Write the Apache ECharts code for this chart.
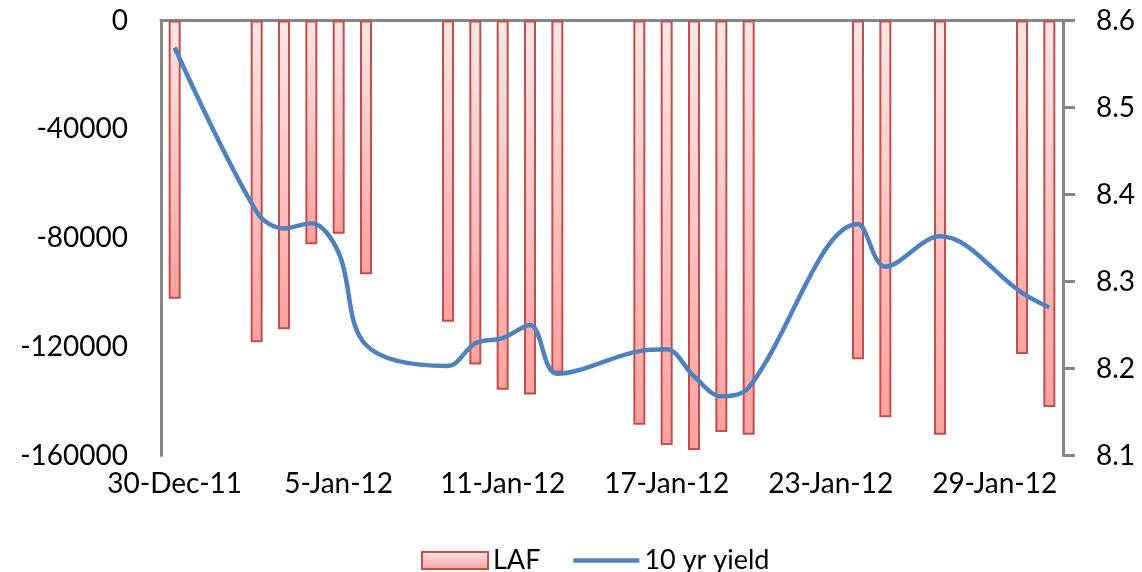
<!DOCTYPE html>
<html>
<head>
<meta charset="utf-8">
<script src="https://cdn.jsdelivr.net/npm/echarts@6/dist/echarts.min.js"></script>
<style>html,body{margin:0;padding:0;background:#fff}#c{width:1142px;height:572px}</style>
</head>
<body>
<div id="c"></div>
<script>
var categories = ['30-Dec-11','31-Dec-11','1-Jan-12','2-Jan-12','3-Jan-12','4-Jan-12','5-Jan-12','6-Jan-12','7-Jan-12','8-Jan-12',
  '9-Jan-12','10-Jan-12','11-Jan-12','12-Jan-12','13-Jan-12','14-Jan-12','15-Jan-12','16-Jan-12','17-Jan-12','18-Jan-12',
  '19-Jan-12','20-Jan-12','21-Jan-12','22-Jan-12','23-Jan-12','24-Jan-12','25-Jan-12','26-Jan-12','27-Jan-12','28-Jan-12',
  '29-Jan-12','30-Jan-12','31-Jan-12'];
var lafValues = [-102300, null, null, -118300, -113600, -82300, -78400, -93300, null, null,
  -110800, -126500, -135800, -137600, -129500, null, null, -148700, -156100, -158000,
  -151400, -152400, null, null, null, -124600, -145900, null, -152400, null,
  null, -122700, -142200];
var yieldValues = [8.569, null, null, 8.380, 8.361, 8.367, 8.333, 8.227, null, null,
  8.203, 8.229, 8.235, 8.250, 8.194, null, null, 8.220, 8.222, 8.191,
  8.168, 8.178, null, null, null, 8.366, 8.317, null, 8.352, null,
  null, 8.287, 8.270];
var leftTicks = {min: -160000, max: 0, interval: 40000};
var rightTicks = {min: 8.1, max: 8.6, interval: 0.1};

var FONT = 'Lato';
var axisGray = '#868686';
var chart = echarts.init(document.getElementById('c'), null, {renderer: 'canvas'});
var barFill = new echarts.graphic.LinearGradient(0, 0, 0, 1, [
  {offset: 0, color: '#FFE6E6'}, {offset: 1, color: '#FFA0A0'}
]);
chart.setOption({
  animation: false,
  backgroundColor: '#fff',
  textStyle: {fontFamily: FONT},
  grid: {left: 161, right: 79, top: 20.5, bottom: 116.5, containLabel: false, outerBoundsMode: 'none'},
  legend: {
    left: 416, top: 542,
    itemWidth: 66, itemHeight: 17, itemGap: 33,
    textStyle: {fontFamily: FONT, fontSize: 27, color: '#000'},
    data: [
      {name: 'LAF', icon: 'rect'},
      {name: '10 yr yield', icon: 'path://M0,0 L66,0 L66,4.5 L0,4.5 Z', itemStyle: {color: '#4F81BD'}}
    ]
  },
  xAxis: [{
    type: 'category', data: categories, position: 'bottom', boundaryGap: true,
    axisLine: {show: false}, axisTick: {show: false},
    axisLabel: {interval: 5, margin: 14, fontFamily: FONT, fontSize: 28, color: '#000'}
  }, {
    type: 'category', data: categories, position: 'top', boundaryGap: true,
    axisLine: {show: true, onZero: false, lineStyle: {color: axisGray, width: 3}},
    axisTick: {show: false}, axisLabel: {show: false}
  }],
  yAxis: [{
    type: 'value', position: 'left', min: leftTicks.min, max: leftTicks.max, interval: leftTicks.interval,
    splitLine: {show: false},
    axisLine: {show: true, lineStyle: {color: axisGray, width: 3}},
    axisTick: {show: false},
    axisLabel: {margin: 33, fontFamily: FONT, fontSize: 28, color: '#000', formatter: function (v) { return String(v); }}
  }, {
    type: 'value', position: 'right', min: rightTicks.min, max: rightTicks.max, interval: rightTicks.interval,
    splitLine: {show: false},
    axisLine: {show: true, lineStyle: {color: axisGray, width: 3}},
    axisTick: {show: true, inside: false, length: 12, lineStyle: {color: axisGray, width: 3}},
    axisLabel: {margin: 33, fontFamily: FONT, fontSize: 28, color: '#000', formatter: function (v) { return v.toFixed(1); }}
  }],
  series: [{
    name: 'LAF', type: 'bar', xAxisIndex: 0, yAxisIndex: 0,
    data: lafValues, barWidth: 12,
    itemStyle: {color: barFill, borderColor: '#C0504D', borderWidth: 2}
  }, {
    name: '10 yr yield', type: 'line', xAxisIndex: 0, yAxisIndex: 1,
    data: yieldValues, connectNulls: true, smooth: 0.35,
    showSymbol: false, symbol: 'none',
    lineStyle: {color: '#4F81BD', width: 4.5},
    itemStyle: {color: '#4F81BD'}
  }]
});
</script>
</body>
</html>
